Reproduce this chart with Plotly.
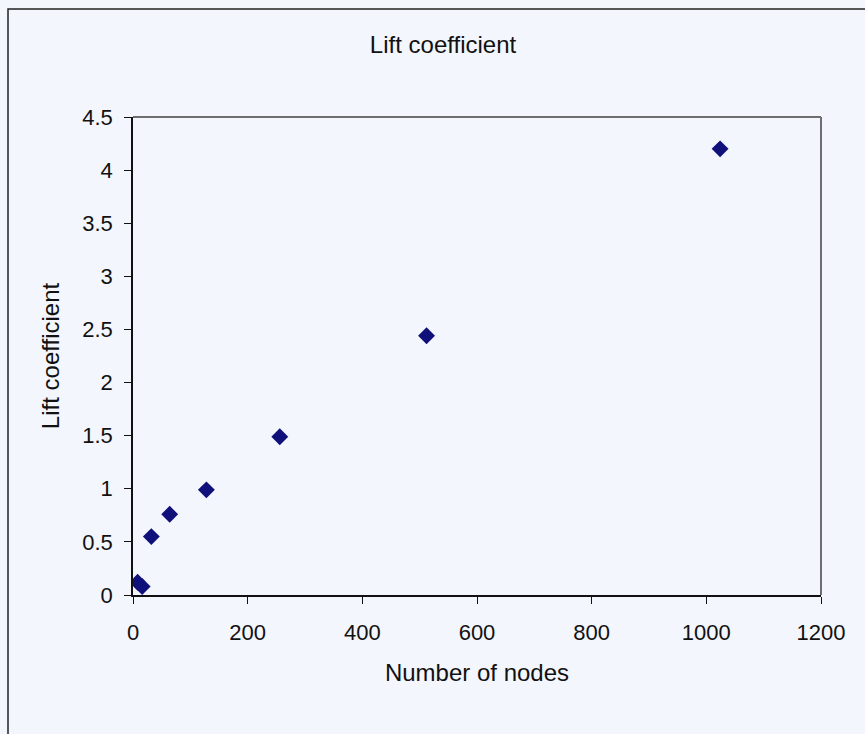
import plotly.graph_objects as go

# Lift coefficient against mesh size
nodes = [8, 16, 32, 64, 128, 256, 512, 1024]
lift = [0.12, 0.08, 0.55, 0.76, 0.99, 1.49, 2.44, 4.20]

x_ticks = [0, 200, 400, 600, 800, 1000, 1200]
y_ticks = [0, 0.5, 1, 1.5, 2, 2.5, 3, 3.5, 4, 4.5]

W, H = 865, 734
L, R, T, B = 133, 44, 117, 139
pw, ph = W - L - R, H - T - B

FONT = "Arial, Liberation Sans, Helvetica, sans-serif"
BG = "#f3f6fc"
INK = "#111111"

fig = go.Figure()
fig.add_trace(go.Scatter(
    x=nodes, y=lift, mode="markers",
    marker=dict(symbol="diamond", size=13, color="#10107a",
                line=dict(width=0)),
    showlegend=False,
))

axis_common = dict(
    showgrid=False, zeroline=False, showline=True, linecolor=INK,
    linewidth=1.5, ticks="outside", ticklen=7, tickcolor=INK,
    tickwidth=1.2, tickfont=dict(family=FONT, size=22, color=INK),
    mirror=False,
)

fig.update_layout(
    width=W, height=H,
    margin=dict(l=L, r=R, t=T, b=B),
    paper_bgcolor=BG, plot_bgcolor=BG,
    font=dict(family=FONT, color=INK),
    title=dict(text="Lift coefficient", x=443 / W, xanchor="center",
               y=1 - 45 / H, yanchor="middle", yref="container",
               font=dict(family=FONT, size=24, color=INK)),
    xaxis=dict(axis_common, range=[0, 1200], tickvals=x_ticks,
               ticklabelstandoff=10,
               title=dict(text="Number of nodes", standoff=20,
                          font=dict(family=FONT, size=24, color=INK))),
    yaxis=dict(axis_common, range=[0, 4.5], tickvals=y_ticks,
               ticklabelstandoff=7,
               title=dict(text="Lift coefficient", standoff=16,
                          font=dict(family=FONT, size=24, color=INK))),
    shapes=[
        # plot-area frame (top and right sides)
        dict(type="line", xref="paper", yref="paper", x0=0, x1=1, y0=1, y1=1,
             line=dict(color="#6e6e6e", width=2)),
        dict(type="line", xref="paper", yref="paper", x0=1, x1=1, y0=0, y1=1,
             line=dict(color="#6e6e6e", width=2)),
        # chart-area border
        dict(type="rect", xref="paper", yref="paper",
             x0=(8 - L) / pw, x1=(W + 10 - L) / pw,
             y0=(H - B - (H + 10)) / ph, y1=(H - B - 9) / ph,
             line=dict(color="#222222", width=1.5), layer="below"),
    ],
)

fig.write_html("out.html")
